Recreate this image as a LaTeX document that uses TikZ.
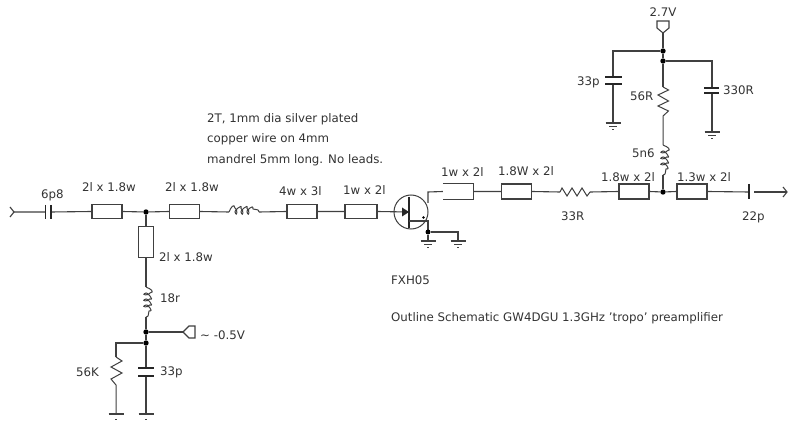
\documentclass[tikz,border=0pt]{standalone}
\usepackage{fontspec}
\setmainfont{DejaVu Sans}
\usetikzlibrary{calc}
\tikzset{
  x=1pt,y=-1pt,
  wire/.style={draw=black!75,line width=1.1pt},
  boxr/.style={draw=black!75,line width=1.1pt,fill=white,minimum width=30pt,minimum height=14.5pt,inner sep=0pt},
  boxo/.style={minimum width=30pt,minimum height=15pt,inner sep=0pt},
  boxv/.style={draw=black!75,line width=1.1pt,fill=white,minimum width=14.5pt,minimum height=31pt,inner sep=0pt},
  dot/.style={circle,fill=black,inner sep=0pt,minimum size=5.4pt},
  lbl/.style={font=\fontsize{11.8}{13}\selectfont,text=black!80,inner sep=0pt,anchor=west},
  lblc/.style={font=\fontsize{11.8}{13}\selectfont,text=black!80,inner sep=0pt,anchor=center},
  plate/.style={draw=black!85,line width=1.2pt},
}
\newcommand{\gnd}[1]{\draw[wire] ($(#1)+(-7.5,0)$) -- ($(#1)+(7.5,0)$) ($(#1)+(-4,3.5)$) -- ($(#1)+(4,3.5)$) ($(#1)+(-1,6.5)$) -- ($(#1)+(1,6.5)$);}
\newcommand{\coilh}[1]{\draw[wire,line width=1pt] ($(#1)$) .. controls +(2,-5) and +(-1,-5) .. ++(6,-4) .. controls +(3,1) and +(2,6) .. ++(0,4) .. controls +(-2,0) and +(2,-6) .. ++(6,-3.5) .. controls +(3,1) and +(2,6) .. ++(0,3.5) .. controls +(-2,0) and +(2,-6) .. ++(6,-3.5) .. controls +(3,1) and +(2,6) .. ++(0,3.5) .. controls +(-2,0) and +(1,-6) .. ++(6,-3) .. controls +(3,1) and +(0,-3) .. ++(6,3);}
\newcommand{\coilv}[1]{\draw[wire,line width=1pt] ($(#1)$) .. controls +(5,2) and +(5,-1) .. ++(4,6) .. controls +(-1,3) and +(-6,2) .. ++(-4,0) .. controls +(0,-2) and +(6,2) .. ++(3.5,6) .. controls +(-1,3) and +(-6,2) .. ++(-3.5,0) .. controls +(0,-2) and +(6,2) .. ++(3.5,6) .. controls +(-1,3) and +(-6,2) .. ++(-3.5,0) .. controls +(0,-2) and +(6,1) .. ++(3,6) .. controls +(-1,3) and +(3,0) .. ++(-3,6);}
\begin{document}
\begin{tikzpicture}
\useasboundingbox[fill=white] (0,0) rectangle (790,422);
\coordinate (in) at (14,212);
\coordinate (c1a) at (45.5,212);
\coordinate (c1b) at (51,212);
\node[boxr] (b1) at (107,211.5) {};
\node[dot] (j1) at (146,212) {};
\node[boxr] (b2) at (184.5,211.5) {};
\coordinate (l1a) at (229,212);
\coordinate (l1b) at (259,212);
\node[boxr] (b3) at (302,211.5) {};
\node[boxr,minimum width=32pt] (b4) at (361,211.5) {};
\coordinate (base) at (409,212);
\coordinate (dr) at (428,192);
\node[boxo] (b5) at (458,191.5) {};
\node[boxr,minimum height=15pt] (b6) at (516.5,191.5) {};
\coordinate (r1a) at (560,192);
\coordinate (r1b) at (590,192);
\node[boxr,minimum height=15pt] (b7) at (634,191.5) {};
\node[dot] (j2) at (663,192) {};
\node[boxr,minimum height=15pt] (b8) at (692,191.5) {};
\coordinate (c2) at (749,192);
\coordinate (out0) at (754,192);
\coordinate (out) at (787,192);
\draw[wire] (10,207) -- (14,212) -- (10,217);
\draw[wire] (in) -- (c1a) (c1b) -- (b1.west) (b1.east) -- (j1) -- (b2.west);
\draw[wire] (b2.east) -- (l1a);
\coilh{l1a}
\draw[wire] (l1b) -- (b3.west) (b3.east) -- (b4.west) (b4.east) -- (base);
\draw[plate] (45.5,205) -- (45.5,219) (51,205) -- (51,219);
% transistor
\node[draw=black!75,line width=1pt,circle,minimum size=34pt,inner sep=0pt] (q) at (411,212) {};
\draw[draw=black!85,line width=1.3pt] (409,197) -- (409,228);
\fill[black!85] (409,212) -- (402,207.5) -- (402,216.5) -- cycle;
\draw[wire] (409,221) -- (428,221) -- (428,232);
\draw[wire] (428,203) -- (dr) -- (b5.west);
\draw[wire] (b5.north west) -- (b5.north east) -- (b5.south east) -- (b5.south west);
\fill (423.5,217.5) circle (1.4pt);
\node[dot,minimum size=5pt] (j3) at (428,232) {};
\draw[wire] (j3) -- (428,241) (j3) -- (458,232) -- (458,241);
\gnd{428,241} \gnd{458,241}
\draw[wire] (b5.east) -- (b6.west) (b6.east) -- (r1a);
\draw[wire,line width=1pt] (r1a) -- (562,188) -- (567,196) -- (572,188) -- (577,196) -- (582,188) -- (587,196) -- (r1b);
\draw[wire] (r1b) -- (b7.west) (b7.east) -- (j2) -- (b8.west) (b8.east) -- (c2);
\draw[plate] (749,184) -- (749,199);
\draw[wire] (out0) -- (out);
\draw[wire] (783,187) -- (787,192) -- (783,197);
% supply
\draw[wire,fill=white] (657,21) -- (669,21) -- (669,28) -- (663,33) -- (657,28) -- cycle;
\node[dot] (j4) at (663,51) {};
\node[dot] (j5) at (663,61) {};
\draw[wire] (663,33) -- (j4) -- (j5) -- (663,87);
\draw[wire,line width=1pt] (663,87) -- (668.5,90) -- (658,95) -- (668.5,101) -- (658,106) -- (668.5,111) -- (663,116) -- (663,145);
\coilv{663,145}
\draw[wire] (663,175) -- (j2);
\draw[wire] (j4) -- (613,51) -- (613,77) (613,84) -- (613,123);
\draw[plate] (605,77) -- (622,77) (605,84) -- (622,84);
\gnd{613,123}
\draw[wire] (j5) -- (712,61) -- (712,88) (712,93) -- (712,132);
\draw[plate] (704,88) -- (719,88) (704,93) -- (719,93);
\gnd{712,132}
% lower branch
\node[boxv] (b9) at (146,242) {};
\node[dot] (j6) at (146,332) {};
\node[dot] (j7) at (146,343) {};
\draw[wire] (j1) -- (b9.north) (b9.south) -- (146,287);
\coilv{146,287}
\draw[wire] (146,317) -- (j6) -- (j7) -- (146,368) (146,376) -- (146,414);
\draw[plate] (138,368) -- (154,368) (138,376) -- (154,376);
\draw[wire] (j6) -- (183,332);
\draw[wire,fill=white] (195,326) -- (195,338) -- (189,338) -- (183,332) -- (189,326) -- cycle;
\draw[wire] (j7) -- (116,343) -- (116,357);
\draw[wire,line width=1pt] (116,357) -- (122,361) -- (111,367) -- (122,373) -- (111,379) -- (116,385) -- (116,414);
\draw[wire] (108.5,414) -- (123.5,414) (138.5,414) -- (153.5,414);
\draw[wire] (115,419.5) -- (117,419.5) (145,419.5) -- (147,419.5);
% labels
\node[lbl] (t1) at (41,195) {6p8};
\node[lbl] (t2) at (82,187) {2l x 1.8w};
\node[lbl] (t3) at (165,187) {2l x 1.8w};
\node[lbl] (t4) at (279,191) {4w x 3l};
\node[lbl] (t5) at (343,190) {1w x 2l};
\node[lbl] (t6) at (441,172) {1w x 2l};
\node[lbl] (t7) at (498,171) {1.8W x 2l};
\node[lbl] (t8) at (561,216) {33R};
\node[lbl] (t9) at (601,177) {1.8w x 2l};
\node[lbl] (t10) at (677,177) {1.3w x 2l};
\node[lbl] (t11) at (742,217) {22p};
\node[lbl] (t12) at (159,257) {2l x 1.8w};
\node[lbl] (t13) at (160,298) {18r};
\node[lbl] (t14) at (200,335) {\char"007E{} -0.5V};
\node[lbl] (t15) at (160,372) {33p};
\node[lbl] (t16) at (76,372) {56K};
\node[lblc] (t17) at (663,12) {2.7V};
\node[lbl] (t18) at (577,82) {33p};
\node[lbl] (t19) at (723,90) {330R};
\node[lbl] (t20) at (630,96) {56R};
\node[lbl] (t21) at (632,153) {5n6};
\node[lbl] (t22) at (207,119) {2T, 1mm dia silver plated};
\node[lbl] (t23) at (207,139) {copper wire on 4mm};
\node[lbl] (t24) at (207,160) {mandrel 5mm long. No leads.};
\node[lbl] (t25) at (391,280) {FXH05};
\node[lbl] (t26) at (391,318) {Outline Schematic GW4DGU 1.3GHz 'tropo' preamplifier};
\end{tikzpicture}
\end{document}
